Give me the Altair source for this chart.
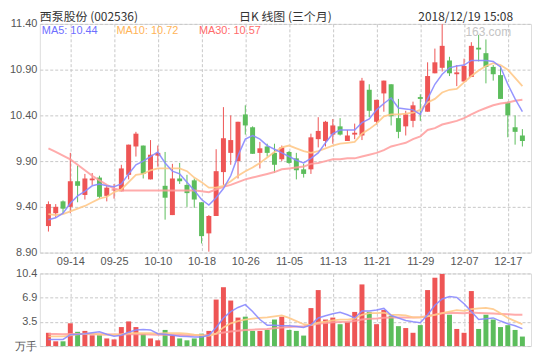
import altair as alt
import pandas as pd

dates = ["09-11","09-12","09-13","09-14","09-17","09-18","09-19","09-20","09-21","09-25",
         "09-26","09-27","09-28","10-08","10-09","10-10","10-11","10-12","10-15","10-16",
         "10-17","10-18","10-19","10-22","10-23","10-24","10-25","10-26","10-29","10-30",
         "10-31","11-01","11-02","11-05","11-06","11-07","11-08","11-09","11-12","11-13",
         "11-14","11-15","11-16","11-19","11-20","11-21","11-22","11-23","11-26","11-27",
         "11-28","11-29","11-30","12-03","12-04","12-05","12-06","12-07","12-10","12-11",
         "12-12","12-13","12-14","12-17","12-18","12-19"]

open_ = [9.19,9.33,9.46,9.40,9.68,9.53,9.69,9.72,9.52,9.58,
         9.57,9.75,10.06,10.07,9.70,9.96,9.63,9.31,9.71,9.64,
         9.69,9.45,9.11,9.30,9.78,9.99,9.90,10.41,10.27,9.99,
         10.06,9.99,9.92,10.00,9.93,9.81,9.81,10.14,10.12,10.19,
         10.28,10.12,10.19,10.18,10.68,10.33,10.64,10.74,10.37,10.28,
         10.34,10.60,10.44,10.86,10.92,11.00,10.85,10.77,10.82,11.14,
         11.08,10.93,10.84,10.54,10.27,10.18]
high = [9.46,9.43,9.47,9.99,9.85,9.76,9.77,9.74,9.63,9.65,
        9.86,10.08,10.22,10.07,10.13,10.07,10.00,9.87,9.88,9.75,
        9.71,9.45,9.31,10.03,10.49,10.40,10.33,10.51,10.28,10.11,
        10.09,10.09,10.07,10.01,9.99,9.87,10.20,10.38,10.34,10.36,
        10.37,10.24,10.31,10.81,10.74,10.57,10.78,10.74,10.58,10.45,
        10.55,10.63,10.98,11.13,11.40,11.04,10.95,11.02,11.20,11.28,
        11.23,10.95,10.94,10.55,10.40,10.25]
low = [9.13,9.29,9.33,9.33,9.45,9.48,9.64,9.49,9.46,9.49,
       9.57,9.70,9.95,9.71,9.70,9.84,9.26,9.31,9.65,9.40,
       9.39,9.00,8.91,9.30,9.64,9.86,9.71,10.19,9.98,9.82,
       9.95,9.77,9.90,9.87,9.70,9.72,9.76,10.05,10.06,10.09,
       10.18,10.12,10.14,10.13,10.38,10.30,10.44,10.29,10.15,10.18,
       10.27,10.34,10.44,10.86,10.88,10.83,10.72,10.77,10.82,10.99,
       10.75,10.78,10.58,10.16,10.08,10.06]
close = [9.43,9.40,9.38,9.68,9.63,9.71,9.71,9.51,9.61,9.59,
         9.82,10.08,10.20,9.76,9.97,9.99,9.50,9.71,9.68,9.55,
         9.48,9.08,9.30,9.79,10.15,10.13,10.33,10.29,9.98,10.04,
         9.99,9.86,10.05,9.88,9.80,9.76,10.16,10.23,10.33,10.29,
         10.19,10.18,10.21,10.78,10.45,10.57,10.78,10.39,10.22,10.41,
         10.51,10.58,10.83,10.98,11.16,10.86,10.87,10.94,11.16,11.12,
         10.93,10.85,10.58,10.40,10.22,10.12]

ma5 = [9.26,9.28,9.33,9.44,9.52,9.57,9.63,9.65,9.63,9.62,
       9.65,9.76,9.86,9.90,9.95,10.00,9.88,9.79,9.76,9.67,
       9.58,9.48,9.42,9.50,9.60,9.74,9.96,10.14,10.18,10.14,
       10.07,10.03,9.99,9.95,9.91,9.88,9.93,9.99,10.10,10.20,
       10.24,10.24,10.24,10.32,10.36,10.46,10.53,10.59,10.48,10.47,
       10.46,10.41,10.58,10.74,10.85,10.92,10.94,10.95,11.00,11.00,
       11.00,10.99,10.93,10.74,10.58,10.44]
ma10 = [9.32,9.31,9.32,9.35,9.38,9.41,9.45,9.49,9.51,9.56,
        9.59,9.67,9.75,9.76,9.80,9.82,9.82,9.82,9.82,9.79,
        9.72,9.67,9.61,9.61,9.63,9.68,9.74,9.79,9.83,9.88,
        9.94,10.00,10.05,10.07,10.04,10.01,9.99,10.01,10.04,10.07,
        10.09,10.10,10.11,10.20,10.25,10.31,10.39,10.41,10.41,10.42,
        10.43,10.46,10.54,10.58,10.65,10.68,10.69,10.76,10.83,10.89,
        10.94,10.97,10.95,10.90,10.81,10.72]
ma30 = [10.04,10.00,9.96,9.92,9.86,9.80,9.74,9.69,9.64,9.60,
        9.58,9.58,9.58,9.58,9.58,9.58,9.58,9.58,9.58,9.58,
        9.58,9.57,9.56,9.59,9.62,9.64,9.67,9.70,9.72,9.74,
        9.76,9.78,9.81,9.82,9.83,9.84,9.87,9.88,9.90,9.92,
        9.92,9.93,9.93,9.95,9.97,9.99,10.02,10.06,10.08,10.10,
        10.14,10.17,10.24,10.26,10.30,10.32,10.34,10.37,10.41,10.45,
        10.48,10.51,10.53,10.54,10.56,10.57]

volume = [1.90,0.68,0.68,3.26,2.04,2.17,1.54,1.54,1.09,0.95,
          2.72,3.53,2.72,1.77,1.09,0.82,2.31,1.54,1.09,0.82,
          1.09,1.77,2.17,6.66,8.43,6.52,4.08,4.21,2.17,2.17,
          2.31,3.80,4.21,2.31,2.17,1.50,5.44,8.02,3.80,4.08,
          3.13,3.40,4.89,8.83,4.89,3.13,5.16,4.35,2.85,2.58,
          1.90,3.00,8.02,9.79,10.33,4.49,2.45,1.90,7.88,2.45,
          4.49,3.80,2.72,2.99,2.31,1.36]
vma5 = [0.95,0.95,0.95,1.63,1.68,1.77,1.90,2.04,1.68,1.40,
        1.54,1.99,2.31,2.36,2.31,1.77,1.68,1.54,1.40,1.36,
        1.31,1.31,1.54,2.67,4.03,4.94,5.53,5.93,4.94,3.80,
        2.99,2.99,2.90,2.90,2.81,2.67,3.03,4.03,4.35,4.62,
        4.85,4.48,4.03,5.03,5.03,5.16,5.39,4.39,4.03,3.67,
        3.49,3.35,4.48,5.84,6.75,7.11,6.98,6.07,4.94,3.80,
        3.90,4.03,3.58,3.20,2.90,2.50]
vma10 = [1.40,1.40,1.40,1.54,1.68,1.77,1.77,1.68,1.63,1.63,
         1.68,1.86,1.86,1.86,1.86,1.77,1.86,1.86,1.86,1.77,
         1.63,1.54,1.45,1.77,2.67,3.26,3.58,3.80,3.94,4.03,
         4.12,4.26,4.39,4.03,3.58,3.13,2.99,3.35,3.49,3.67,
         3.80,3.80,3.94,4.48,4.71,4.71,4.80,4.48,4.48,4.39,
         4.12,4.12,4.26,4.48,4.71,4.94,5.16,5.03,5.30,5.39,
         5.48,5.30,4.71,4.03,3.58,3.13]
vma30 = [1.72,1.72,1.70,1.72,1.72,1.72,1.70,1.68,1.66,1.64,
         1.66,1.70,1.70,1.68,1.64,1.62,1.62,1.60,1.58,1.56,
         1.55,1.56,1.58,1.75,1.95,2.10,2.20,2.30,2.35,2.40,
         2.45,2.55,2.65,2.72,2.80,2.85,3.00,3.20,3.30,3.40,
         3.45,3.50,3.60,3.80,3.90,3.95,4.05,4.10,4.10,4.10,
         4.10,4.12,4.30,4.50,4.70,4.75,4.75,4.70,4.80,4.75,
         4.70,4.65,4.60,4.55,4.50,4.48]

tick_idx = [3, 9, 15, 21, 27, 33, 39, 45, 51, 57, 63]
price_ticks = [8.9, 9.4, 9.9, 10.4, 10.9, 11.4]
vol_max = 10.4
vol_ticks = [0, vol_max / 3, vol_max * 2 / 3, vol_max]

df = pd.DataFrame({
    "idx": list(range(len(dates))), "date": dates,
    "open": open_, "high": high, "low": low, "close": close,
    "ma5": ma5, "ma10": ma10, "ma30": ma30,
    "vol": volume, "vma5": vma5, "vma10": vma10, "vma30": vma30,
})
df["dir"] = ["up" if c >= o else "down" for o, c in zip(open_, close)]

RED = "#ee5555"
GREEN = "#5cbd5c"
C5 = "#8a8aff"
C10 = "#ffc98a"
C30 = "#ff9c9c"
GRID = "#c8c8c8"
LAB = "#555555"
FONT = "Liberation Sans"
W, H1, H2 = 494, 230, 73

date_expr = "[" + ",".join("'%s'" % d for d in dates) + "][datum.value]"
xscale = alt.Scale(domain=[-0.5, len(dates) - 0.5], nice=False, zero=False)
color = alt.Color("dir:N", scale=alt.Scale(domain=["up", "down"], range=[RED, GREEN]), legend=None)

x_price = alt.X("idx:Q", scale=xscale, title=None,
                axis=alt.Axis(values=tick_idx, labelExpr=date_expr, grid=True, gridDash=[3, 2],
                              gridColor=GRID, ticks=False, domain=False, labelPadding=3,
                              labelFont=FONT, labelFontSize=11, labelColor=LAB))
pscale = alt.Scale(domain=[8.9, 11.4], nice=False, zero=False)
paxis = alt.Axis(values=price_ticks, format=".2f", grid=True, gridDash=[3, 2], gridColor=GRID,
                 ticks=False, domain=False, labelPadding=3, labelFont=FONT, labelFontSize=11,
                 labelColor=LAB, title=None)

def py(field):
    return alt.Y(field, scale=pscale, axis=paxis, title=None)

base = alt.Chart(df).encode(x=x_price)
wicks = base.mark_rule(strokeWidth=1).encode(y=py("low:Q"), y2="high:Q", color=color)
bodies = base.mark_bar(size=5).encode(y=py("open:Q"), y2="close:Q", color=color)
l5 = base.mark_line(color=C5, strokeWidth=1.5, opacity=0.9).encode(y=py("ma5:Q"))
l10 = base.mark_line(color=C10, strokeWidth=1.8, opacity=0.9).encode(y=py("ma10:Q"))
l30 = base.mark_line(color=C30, strokeWidth=2, opacity=0.85).encode(y=py("ma30:Q"))

one = pd.DataFrame({"k": [0]})
def label(txt, xpos, ypos, col, size=11, align="left", font=FONT):
    return alt.Chart(one).mark_text(align=align, baseline="middle", fontSize=size, font=font,
                                    color=col).encode(x=alt.value(xpos), y=alt.value(ypos),
                                                      text=alt.value(txt))

texts = [
    label("MA5: %.2f" % ma5[-1], 2, 7, "#6e6eff"),
    label("MA10: %.2f" % ma10[-1], 77, 7, "#ffb457"),
    label("MA30: %.2f" % ma30[-1], 160, 7, "#ff6b6b"),
    label("163.com", 474, 8, "#c4c4c4", size=12, align="right"),
    label("西泵股份 (002536)", 0, -7, "#333333", size=12, font="Noto Sans CJK SC"),
    label("日K 线图 (三个月)", W / 2, -7, "#333333", size=12, align="center", font="Noto Sans CJK SC"),
    label("2018/12/19 15:08", 476, -7, "#333333", size=12, align="right", font="Noto Sans CJK SC"),
]

price = alt.layer(wicks, bodies, l30, l10, l5, *texts).properties(width=W, height=H1)

x_vol = alt.X("idx:Q", scale=xscale, title=None,
              axis=alt.Axis(values=tick_idx, labels=False, grid=True, gridDash=[3, 2],
                            gridColor=GRID, ticks=False, domain=False))
vscale = alt.Scale(domain=[0, vol_max], nice=False, zero=True)
vaxis = alt.Axis(values=vol_ticks, labelExpr="datum.value == 0 ? '万手' : format(datum.value, '.1f')",
                 grid=True, gridDash=[3, 2], gridColor=GRID, ticks=False, domain=False,
                 labelPadding=3, labelFont=FONT, labelFontSize=11, labelColor=LAB, title=None)

def vy(field):
    return alt.Y(field, scale=vscale, axis=vaxis, title=None)

vbase = alt.Chart(df).encode(x=x_vol)
vbars = vbase.mark_bar(size=5).encode(y=vy("vol:Q"), color=color)
v5 = vbase.mark_line(color=C5, strokeWidth=1.5, opacity=0.9).encode(y=vy("vma5:Q"))
v10 = vbase.mark_line(color=C10, strokeWidth=1.8, opacity=0.9).encode(y=vy("vma10:Q"))
v30 = vbase.mark_line(color=C30, strokeWidth=2, opacity=0.85).encode(y=vy("vma30:Q"))
vol = alt.layer(vbars, v30, v10, v5).properties(width=W, height=H2)

chart = alt.vconcat(price, vol, spacing=21, bounds="flush").properties(
    padding={"left": 0, "top": 1, "right": 0, "bottom": 0}
).configure_view(stroke="#aaaaaa", strokeWidth=1.5).configure(background="white")

chart.save("out.html", embed_options={"renderer": "svg", "actions": False})
